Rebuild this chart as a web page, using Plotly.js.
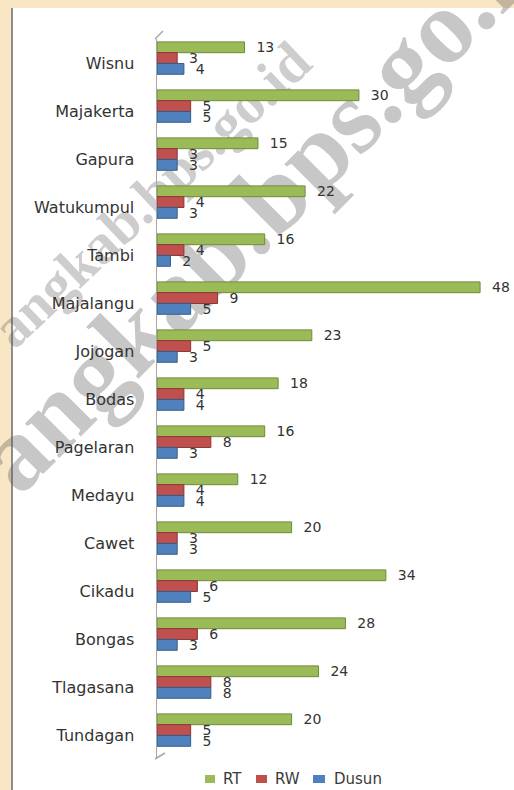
<!DOCTYPE html>
<html>
<head>
<meta charset="utf-8">
<script src="https://cdn.plot.ly/plotly-3.0.1.min.js"></script>
<style>html,body{margin:0;padding:0;background:#fff;}#chart{width:514px;height:790px;}</style>
</head>
<body>
<div id="chart"></div>
<script>
var categories = ["Wisnu","Majakerta","Gapura","Watukumpul","Tambi","Majalangu","Jojogan","Bodas","Pagelaran","Medayu","Cawet","Cikadu","Bongas","Tlagasana","Tundagan"];
var rtValues    = [13,30,15,22,16,48,23,18,16,12,20,34,28,24,20];
var rwValues    = [3,5,3,4,4,9,5,4,8,4,3,6,6,8,5];
var dusunValues = [4,5,3,3,2,5,3,4,3,4,3,5,3,8,5];
var seriesNames = ["RT","RW","Dusun"];
var seriesColors = ['#9bbb59','#c0504d','#4f81bd'];
var seriesEdges  = ['#6f8a3a','#8e3532','#355d8c'];
var watermarkText = "angkab.bps.go.id";

var W = 514, H = 790, ML = 157, MR = 7, MT = 39, MB = 31;
var PW = W - ML - MR, PH = H - MT - MB;
function px(x){ return (x - ML) / PW; }
function py(y){ return (H - MB - y) / PH; }

var barOffsets = [-0.44, -0.215, 0.01];
var barWidth = 0.225;

function mk(i, vals){
  return {
    type: 'bar', orientation: 'h', name: seriesNames[i],
    y: categories, x: vals,
    offset: barOffsets[i], width: barWidth,
    marker: {color: seriesColors[i], line: {color: seriesEdges[i], width: 1}},
    texttemplate: '\u00a0\u00a0%{x}',
    textposition: 'outside',
    constraintext: 'none',
    cliponaxis: false,
    textfont: {family: 'DejaVu Sans', size: 14, color: '#333333'},
    hoverinfo: 'none'
  };
}

var data = [mk(0, rtValues), mk(1, rwValues), mk(2, dusunValues)];

// manual legend (squares + labels)
var legendSquares = [[205,215],[256,267],[313,325]];
var legendTextX = [221,273,332];
var legShapes = [], legAnn = [];
for (var i = 0; i < 3; i++){
  legShapes.push({type: 'rect', xref: 'paper', yref: 'paper',
    x0: px(legendSquares[i][0]), x1: px(legendSquares[i][1]), y0: py(783), y1: py(775),
    fillcolor: seriesColors[i], line: {width: 0}});
  legAnn.push({text: seriesNames[i], xref: 'paper', yref: 'paper', x: px(legendTextX[i]), y: py(779),
    xanchor: 'left', yanchor: 'middle', showarrow: false,
    font: {family: 'DejaVu Sans', size: 15, color: '#3a3a3a'}});
}

// watermark drawn as labels of invisible line shapes, below the bars
function wm(cx, cy, angDeg, size, alpha){
  var a = angDeg * Math.PI / 180, L = 200;
  var dx = Math.cos(a) * L, dy = Math.sin(a) * L;
  return {type: 'line', xref: 'paper', yref: 'paper', layer: 'below',
    x0: px(cx - dx), y0: py(cy + dy), x1: px(cx + dx), y1: py(cy - dy),
    line: {color: 'rgba(0,0,0,0)', width: 1},
    label: {text: watermarkText, textangle: 'auto', textposition: 'middle', xanchor: 'center', yanchor: 'middle',
      font: {family: 'Liberation Serif', size: size, weight: 'bold', color: 'rgba(90,90,90,' + alpha + ')'}}};
}

var layout = {
  width: W, height: H,
  margin: {l: ML, r: MR, t: MT, b: MB, pad: 0},
  paper_bgcolor: '#f9e6c4',
  plot_bgcolor: 'rgba(0,0,0,0)',
  barmode: 'overlay',
  font: {family: 'DejaVu Sans', color: '#333333'},
  xaxis: {range: [0, 52], showgrid: false, zeroline: false, showticklabels: false, ticks: '', showline: false, fixedrange: true},
  yaxis: {
    type: 'category', categoryorder: 'array', categoryarray: categories,
    autorange: 'reversed',
    showline: true, linecolor: '#a6a6a6', linewidth: 1.5,
    showgrid: false, zeroline: false, ticks: '',
    ticklabelstandoff: 18,
    tickfont: {family: 'DejaVu Sans', size: 16, color: '#333333'}
  },
  showlegend: false,
  shapes: [
    {type: 'rect', xref: 'paper', yref: 'paper', x0: px(12), x1: px(520), y0: py(800), y1: py(8), fillcolor: '#ffffff', line: {width: 0}, layer: 'below'},
    {type: 'line', xref: 'paper', yref: 'paper', x0: px(12), x1: px(12), y0: py(8), y1: py(795), line: {color: '#8c8c8c', width: 2}, layer: 'below'},
    wm(258, 192, 45, 106, 0.34),
    wm(147, 190, 43.5, 57, 0.30),
    {type: 'line', xref: 'paper', yref: 'paper', x0: px(155), x1: px(163), y0: py(39), y1: py(31), line: {color: '#a6a6a6', width: 1.5}},
    {type: 'line', xref: 'paper', yref: 'paper', x0: px(155), x1: px(165), y0: py(759), y1: py(753), line: {color: '#a6a6a6', width: 1.5}}
  ].concat(legShapes),
  annotations: legAnn
};

Plotly.newPlot('chart', data, layout, {displayModeBar: false, staticPlot: true});
</script>
</body>
</html>
